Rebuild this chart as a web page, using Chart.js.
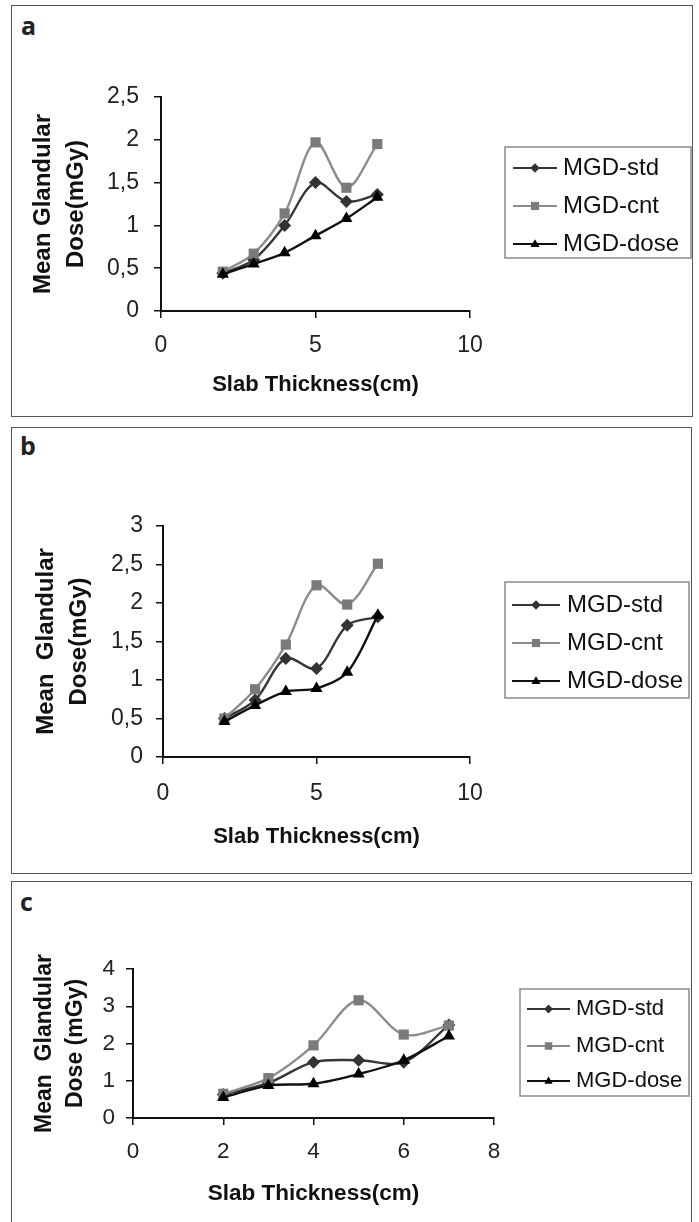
<!DOCTYPE html>
<html><head><meta charset="utf-8">
<script src="https://cdn.jsdelivr.net/npm/chart.js@4.4.0/dist/chart.umd.min.js"></script>
<style>
html,body{margin:0;padding:0;background:#fff;}
#page{position:relative;width:699px;height:1222px;overflow:hidden;background:#fff;}
.frame{position:absolute;border:1.5px solid #555;box-sizing:border-box;}
.lbl{position:absolute;font-family:"Open Sans",sans-serif;font-weight:700;font-size:25px;color:#222;line-height:1;}
canvas{position:absolute;left:0;}
</style></head>
<body><div id="page">
<div class="frame" style="left:11px;top:5px;width:682px;height:412px"></div>
<div class="frame" style="left:11px;top:427px;width:681px;height:447px"></div>
<div class="frame" style="left:11px;top:881px;width:681px;height:360px"></div>
<div class="lbl" style="left:21px;top:13px">a</div>
<div class="lbl" style="left:20px;top:433px">b</div>
<div class="lbl" style="left:20px;top:889px">c</div>
<canvas id="cA" width="699" height="420" style="top:0px"></canvas>
<canvas id="cB" width="699" height="455" style="top:420px"></canvas>
<canvas id="cC" width="699" height="345" style="top:877px"></canvas>
</div>
<script>
// ---- data ----
const thickness = [2, 3, 4, 5, 6, 7];
const seriesNames = ['MGD-std', 'MGD-cnt', 'MGD-dose'];

const stdA  = [0.44, 0.60, 1.00, 1.50, 1.28, 1.36];
const cntA  = [0.46, 0.67, 1.14, 1.97, 1.44, 1.95];
const doseA = [0.43, 0.55, 0.68, 0.88, 1.08, 1.33];

const stdB  = [0.50, 0.74, 1.28, 1.15, 1.71, 1.82];
const cntB  = [0.50, 0.88, 1.46, 2.23, 1.98, 2.51];
const doseB = [0.46, 0.67, 0.85, 0.89, 1.10, 1.84];

const stdC  = [0.63, 0.94, 1.50, 1.55, 1.50, 2.50];
const cntC  = [0.65, 1.07, 1.95, 3.16, 2.24, 2.48];
const doseC = [0.55, 0.87, 0.92, 1.18, 1.55, 2.20];

const xTicksAB = ['0', '5', '10'];
const xTicksC  = ['0', '2', '4', '6', '8'];
const yTicksA  = ['0', '0,5', '1', '1,5', '2', '2,5'];
const yTicksB  = ['0', '0,5', '1', '1,5', '2', '2,5', '3'];
const yTicksC  = ['0', '1', '2', '3', '4'];

const xTitle = 'Slab Thickness(cm)';
const yTitleA = ['Mean Glandular', 'Dose(mGy)'];
const yTitleB = ['Mean  Glandular', 'Dose(mGy)'];
const yTitleC = ['Mean  Glandular', 'Dose (mGy)'];

// ---- helpers ----
const FONT = '"Liberation Sans", Arial, sans-serif';
function toXY(vals) { return thickness.map((x, i) => ({x: x, y: vals[i]})); }

function marker(ctx, style, x, y, r, fill) {
  ctx.fillStyle = fill; ctx.beginPath();
  if (style === 'rectRot') { ctx.moveTo(x, y - r); ctx.lineTo(x + r, y); ctx.lineTo(x, y + r); ctx.lineTo(x - r, y); }
  else if (style === 'rect') { const s = r * 0.85; ctx.rect(x - s, y - s, 2 * s, 2 * s); }
  else { ctx.moveTo(x, y - r); ctx.lineTo(x + r * 0.95, y + r * 0.65); ctx.lineTo(x - r * 0.95, y + r * 0.65); }
  ctx.closePath(); ctx.fill();
}

const boxLegend = {
  id: 'boxLegend',
  afterDraw(chart, args, o) {
    const ctx = chart.ctx;
    ctx.save();
    ctx.strokeStyle = '#8a8a8a'; ctx.lineWidth = 1.5;
    ctx.strokeRect(o.box[0], o.box[1], o.box[2] - o.box[0], o.box[3] - o.box[1]);
    chart.data.datasets.forEach((ds, i) => {
      const y = o.rows[i];
      ctx.strokeStyle = ds.borderColor; ctx.lineWidth = 2.2;
      ctx.beginPath(); ctx.moveTo(o.lineX[0], y); ctx.lineTo(o.lineX[1], y); ctx.stroke();
      marker(ctx, ds.pointStyle, (o.lineX[0] + o.lineX[1]) / 2, y, o.mr, ds.pointBackgroundColor);
      ctx.fillStyle = '#111'; ctx.font = o.fontSize + 'px ' + FONT;
      ctx.textBaseline = 'middle'; ctx.textAlign = 'left';
      ctx.fillText(ds.label, o.textX, y);
    });
    ctx.restore();
  }
};

function build(id, p) {
  const canvas = document.getElementById(id);
  const H = canvas.height;
  const datasets = [
    {label: seriesNames[0], data: toXY(p.std), borderColor: '#363636', pointBackgroundColor: '#333', pointBorderColor: '#333',
     pointStyle: 'rectRot', pointRadius: 6.5, order: 2},
    {label: seriesNames[1], data: toXY(p.cnt), borderColor: '#8c8c8c', pointBackgroundColor: '#7a7a7a', pointBorderColor: '#7a7a7a',
     pointStyle: 'rect', pointRadius: 7.2, order: 1},
    {label: seriesNames[2], data: toXY(p.dose), borderColor: '#111', pointBackgroundColor: '#000', pointBorderColor: '#000',
     pointStyle: 'triangle', pointRadius: 7, order: 0}
  ];
  datasets.forEach(d => { d.borderWidth = 2.4; d.pointBorderWidth = 0; d.tension = 0.33; d.fill = false; });
  return new Chart(canvas, {
    type: 'line',
    data: {datasets},
    options: {
      responsive: false, animation: false, devicePixelRatio: 1,
      layout: {padding: {left: 0, top: p.area.top, right: 699 - p.area.right, bottom: 0}},
      plugins: {legend: {display: false}, tooltip: {enabled: false}, boxLegend: p.legend},
      scales: {
        x: {
          type: 'linear', min: p.xMin, max: p.xMax,
          ticks: {stepSize: p.xStep, callback: (v, i) => p.xLabels[i], color: '#222',
                  font: {family: FONT, size: p.tickSize}, padding: p.xPad, maxRotation: 0},
          grid: {drawOnChartArea: false, color: '#111', lineWidth: 1.5, tickLength: 7},
          border: {color: '#111', width: 2},
          title: {display: true, text: xTitle, color: '#111',
                  font: {family: FONT, size: p.xTitleSize, weight: 'bold', lineHeight: 1.2},
                  padding: {top: 0, bottom: p.xTitlePad}},
          afterFit: s => { s.height = H - p.area.bottom; }
        },
        y: {
          type: 'linear', min: p.yMin, max: p.yMax,
          ticks: {stepSize: p.yStep, callback: (v, i) => p.yLabels[i], color: '#222',
                  font: {family: FONT, size: p.tickSize}, padding: p.yPad},
          grid: {drawOnChartArea: false, color: '#111', lineWidth: 1.5, tickLength: 7},
          border: {color: '#111', width: 2},
          title: {display: true, text: p.yTitle, color: '#111',
                  font: {family: FONT, size: p.yTitleSize, weight: 'bold', lineHeight: p.yTitleLH + 'px'},
                  padding: {top: p.yTitlePad, bottom: 0}},
          afterFit: s => { s.width = p.area.left; }
        }
      }
    },
    plugins: [boxLegend]
  });
}

build('cA', {
  std: stdA, cnt: cntA, dose: doseA,
  area: {left: 161, right: 470, top: 97, bottom: 311},
  xMin: 0, xMax: 10, xStep: 5, xLabels: xTicksAB,
  yMin: 0, yMax: 2.5, yStep: 0.5, yLabels: yTicksA,
  tickSize: 23, xPad: 14, yPad: 15,
  xTitleSize: 22, xTitlePad: 22,
  yTitle: yTitleA, yTitleSize: 24, yTitleLH: 33, yTitlePad: 27,
  legend: {box: [505, 147, 691, 258], rows: [168, 206, 244], lineX: [513, 557], textX: 563, mr: 4.8, fontSize: 24}
});

build('cB', {
  std: stdB, cnt: cntB, dose: doseB,
  area: {left: 163, right: 470, top: 106, bottom: 337},
  xMin: 0, xMax: 10, xStep: 5, xLabels: xTicksAB,
  yMin: 0, yMax: 3, yStep: 0.5, yLabels: yTicksB,
  tickSize: 23, xPad: 16, yPad: 13,
  xTitleSize: 22, xTitlePad: 25,
  yTitle: yTitleB, yTitleSize: 24, yTitleLH: 33, yTitlePad: 30,
  legend: {box: [505, 162, 689, 278], rows: [185, 223, 261], lineX: [512, 560], textX: 567, mr: 4.8, fontSize: 24}
});

build('cC', {
  std: stdC, cnt: cntC, dose: doseC,
  area: {left: 133, right: 494, top: 92, bottom: 241},
  xMin: 0, xMax: 8, xStep: 2, xLabels: xTicksC,
  yMin: 0, yMax: 4, yStep: 1, yLabels: yTicksC,
  tickSize: 22.5, xPad: 13, yPad: 11,
  xTitleSize: 22.5, xTitlePad: 15,
  yTitle: yTitleC, yTitleSize: 23, yTitleLH: 31, yTitlePad: 29,
  legend: {box: [520, 112, 689, 219], rows: [132, 169, 204], lineX: [527, 570], textX: 576, mr: 4.4, fontSize: 22}
});
</script>
</body></html>
